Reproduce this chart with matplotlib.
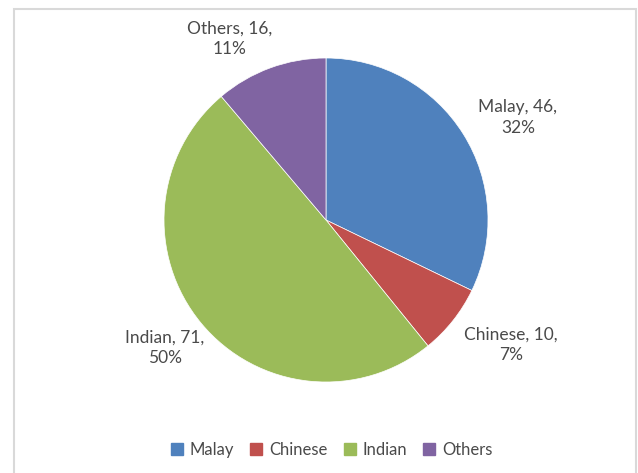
import matplotlib.pyplot as plt
from matplotlib.patches import Rectangle
from matplotlib.lines import Line2D

groups = ['Malay', 'Chinese', 'Indian', 'Others']
counts = [46, 10, 71, 16]
colors = ['#4F81BD', '#C0504D', '#9BBB59', '#8064A2']

plt.rcParams['font.family'] = ['Lato', 'DejaVu Sans']

W, H = 638, 473
fig = plt.figure(figsize=(W / 100, H / 100), dpi=100)
ax = fig.add_axes([0, 0, 1, 1])

total = sum(counts)
labels = ['%s, %d,\n%d%%' % (g, c, round(100 * c / total))
          for g, c in zip(groups, counts)]

wedges, texts = ax.pie(counts, colors=colors, labels=labels,
                       startangle=90, counterclock=False,
                       center=(326, H - 220), radius=162,
                       labeldistance=1.34,
                       wedgeprops=dict(edgecolor='white', linewidth=0.5),
                       textprops=dict(fontsize=12.5, color='#4a4a4a'))

# excel-ish "outside end" placement: small nudges off the radial spot
nudges = [(8, -13), (15, 10), (6, 11), (-22, -23)]
for t, (dx, dy) in zip(texts, nudges):
    x, y = t.get_position()
    t.set_position((x + dx, y + dy))
    t.set_ha('center')
    t.set_va('center')
    t.set_multialignment('center')
    t.set_linespacing(1.35)

# pie() resets the limits, so set the pixel frame afterwards
ax.set_xlim(0, W)
ax.set_ylim(0, H)
ax.set_aspect('equal')
ax.axis('off')

# light chart frame (bottom edge runs off the image)
ax.add_patch(Rectangle((14, -5), 622, H - 9 + 5, fill=False,
                       edgecolor='#d9d9d9', lw=1.5))

handles = [Line2D([], [], marker='s', ls='', color=c, markersize=8)
           for c in colors]
fig.legend(handles, groups, loc='center', bbox_to_anchor=(0.52, 1 - 450 / H),
           ncol=4, frameon=False, fontsize=12, handlelength=0.7,
           handletextpad=0.4, columnspacing=1.0, labelcolor='#4a4a4a')

fig.savefig('out.png', dpi=100)
